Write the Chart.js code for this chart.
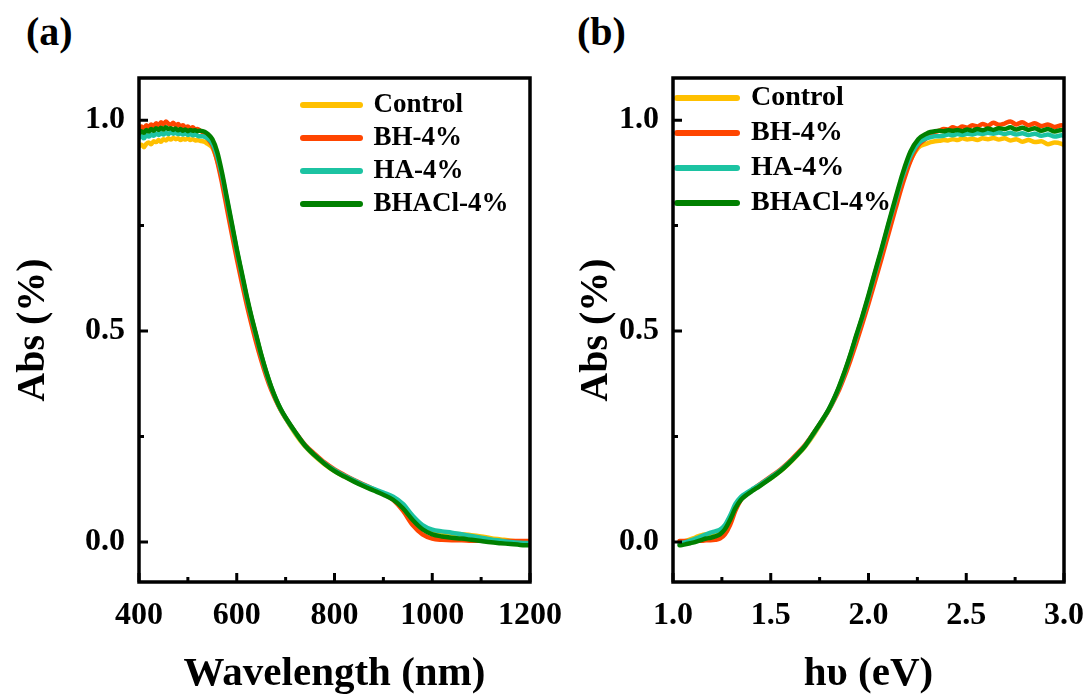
<!DOCTYPE html>
<html>
<head>
<meta charset="utf-8">
<script src="https://cdn.jsdelivr.net/npm/chart.js@4/dist/chart.umd.min.js"></script>
<style>
    body { margin: 0; background: #fff; }
    #wrap { position: relative; width: 1088px; height: 697px; }
    #wrap canvas { position: absolute; top: 0; }
    .tag {
        position: absolute; top: 12px;
        font: bold 40px "Liberation Serif", "Times New Roman", serif;
        line-height: 1; color: #000;
    }
</style>
</head>
<body>
<div id="wrap">
    <div class="tag" style="left:26px">(a)</div>
    <div class="tag" style="left:577px">(b)</div>
    <canvas id="chartA" width="600" height="697" style="left:0"></canvas>
    <canvas id="chartB" width="544" height="697" style="left:544px"></canvas>
</div>
<script>
// ═══════════════════════════════════════════
// Datos
// ═══════════════════════════════════════════

// Longitud de onda (nm)
const wavelength = [
    400, 405, 410, 415, 420, 425, 430, 435, 440, 445, 450, 455, 460, 465, 470,
    475, 480, 485, 490, 495, 500, 505, 510, 515, 520, 525, 530, 535, 540,
    550, 560, 570, 580, 590, 600, 610, 620, 630, 640, 650, 660, 670, 680, 690, 700,
    720, 740, 760, 780, 800, 820, 840, 860, 880, 900, 920, 940, 960, 980, 1000,
    1020, 1040, 1060, 1080, 1100, 1120, 1140, 1160, 1180, 1200
];

// Energía del fotón (eV) para el panel (b)
const energy = wavelength.map(w => 1240 / w);

const seriesNames = ['Control', 'BH-4%', 'HA-4%', 'BHACl-4%'];
const seriesColors = ['#FFC000', '#FF4500', '#1CC3A2', '#008000'];

const absControl = [
    0.938, 0.942, 0.936, 0.944, 0.947, 0.943, 0.950, 0.948, 0.953, 0.949, 0.955, 0.952, 0.957, 0.954, 0.958,
    0.955, 0.957, 0.953, 0.956, 0.954, 0.957, 0.953, 0.955, 0.952, 0.953, 0.951, 0.950, 0.948, 0.944,
    0.935, 0.905, 0.862, 0.806, 0.748, 0.690, 0.635, 0.581, 0.532, 0.487, 0.443, 0.403, 0.368, 0.338, 0.313, 0.293,
    0.256, 0.226, 0.203, 0.184, 0.168, 0.155, 0.144, 0.133, 0.124, 0.115, 0.104, 0.085, 0.058, 0.036, 0.025,
    0.022, 0.020, 0.018, 0.016, 0.013, 0.009, 0.006, 0.003, 0.001, 0.000
];
const absBH = [
    0.978, 0.985, 0.980, 0.988, 0.984, 0.990, 0.986, 0.993, 0.988, 0.995, 0.990, 0.997, 0.992, 0.989, 0.994,
    0.987, 0.991, 0.985, 0.988, 0.982, 0.985, 0.980, 0.983, 0.978, 0.979, 0.975, 0.972, 0.966, 0.957,
    0.940, 0.903, 0.850, 0.790, 0.730, 0.672, 0.617, 0.565, 0.517, 0.472, 0.431, 0.394, 0.362, 0.336, 0.313, 0.294,
    0.260, 0.230, 0.208, 0.188, 0.172, 0.159, 0.147, 0.136, 0.125, 0.114, 0.100, 0.074, 0.040, 0.018, 0.008,
    0.005, 0.004, 0.004, 0.003, 0.003, 0.002, 0.002, 0.002, 0.002, 0.002
];
const absHA = [
    0.958, 0.962, 0.957, 0.964, 0.961, 0.966, 0.963, 0.968, 0.965, 0.969, 0.966, 0.970, 0.967, 0.971, 0.968,
    0.970, 0.967, 0.969, 0.966, 0.968, 0.965, 0.967, 0.964, 0.966, 0.963, 0.962, 0.962, 0.960, 0.957,
    0.945, 0.915, 0.868, 0.810, 0.751, 0.691, 0.636, 0.581, 0.532, 0.487, 0.443, 0.403, 0.368, 0.339, 0.314, 0.294,
    0.259, 0.228, 0.205, 0.186, 0.170, 0.157, 0.146, 0.135, 0.126, 0.117, 0.107, 0.090, 0.062, 0.040, 0.029,
    0.025, 0.022, 0.018, 0.014, 0.010, 0.006, 0.003, 0.000, -0.002, -0.003
];
const absBHACl = [
    0.968, 0.974, 0.970, 0.977, 0.973, 0.979, 0.975, 0.981, 0.977, 0.982, 0.978, 0.983, 0.979, 0.981, 0.977,
    0.980, 0.976, 0.979, 0.975, 0.978, 0.974, 0.977, 0.975, 0.976, 0.974, 0.975, 0.974, 0.972, 0.968,
    0.955, 0.925, 0.875, 0.815, 0.755, 0.695, 0.640, 0.585, 0.535, 0.490, 0.445, 0.405, 0.370, 0.340, 0.315, 0.295,
    0.260, 0.228, 0.205, 0.185, 0.168, 0.155, 0.143, 0.132, 0.122, 0.112, 0.100, 0.080, 0.052, 0.030, 0.018,
    0.013, 0.010, 0.008, 0.005, 0.002, -0.001, -0.003, -0.005, -0.007, -0.008
];
const allSeries = [absControl, absBH, absHA, absBHACl];

// ═══════════════════════════════════════════
// Estilo general
// ═══════════════════════════════════════════
const SERIF = '"Liberation Serif", "Times New Roman", serif';

// Marco negro y marcas hacia dentro (mayores y menores)
const frameTicks = {
    id: 'frameTicks',
    afterDatasetsDraw(chart) {
        const { ctx, chartArea: a, scales: { x, y } } = chart;
        ctx.save();
        ctx.strokeStyle = '#000';
        ctx.lineWidth = 3;
        ctx.beginPath();
        const xt = x.ticks.map(t => t.value);
        const yt = y.ticks.map(t => t.value);
        xt.forEach((v, i) => {
            const px = x.getPixelForValue(v);
            ctx.moveTo(px, a.bottom); ctx.lineTo(px, a.bottom - 9);
            if (i < xt.length - 1) {
                const pm = x.getPixelForValue((v + xt[i + 1]) / 2);
                ctx.moveTo(pm, a.bottom); ctx.lineTo(pm, a.bottom - 5);
            }
        });
        yt.forEach((v, i) => {
            const py = y.getPixelForValue(v);
            ctx.moveTo(a.left, py); ctx.lineTo(a.left + 9, py);
            if (i < yt.length - 1) {
                const pm = y.getPixelForValue((v + yt[i + 1]) / 2);
                ctx.moveTo(a.left, pm); ctx.lineTo(a.left + 5, pm);
            }
        });
        ctx.stroke();
        ctx.lineWidth = 3.5;
        ctx.strokeRect(a.left, a.top, a.right - a.left, a.bottom - a.top);
        ctx.restore();
    }
};

// Mover la leyenda dentro del área del gráfico
const legendSpot = {
    id: 'legendSpot',
    afterLayout(chart, args, opts) {
        const lg = chart.legend;
        if (!lg) return;
        const dx = opts.x - lg.left, dy = opts.y - lg.top;
        lg.left += dx; lg.right += dx;
        lg.top += dy; lg.bottom += dy;
    }
};

// Crear un panel
function crearPanel(canvasId, xs, cfg) {
    const datasets = allSeries.map((vals, k) => {
        let pts = xs.map((xv, i) => ({ x: xv, y: vals[i] }));
        if (cfg.reverse) pts = pts.reverse();
        return {
            label: seriesNames[k],
            data: pts,
            borderColor: seriesColors[k],
            backgroundColor: seriesColors[k],
            borderWidth: 4.5,
            borderCapStyle: 'round',
            borderJoinStyle: 'round',
            pointRadius: 0,
            pointHoverRadius: 0,
            cubicInterpolationMode: 'monotone',
            order: 3 - k
        };
    });

    return new Chart(document.getElementById(canvasId), {
        type: 'line',
        data: { datasets },
        plugins: [frameTicks, legendSpot],
        options: {
            responsive: false,
            animation: false,
            events: [],
            layout: {
                autoPadding: false,
                padding: { top: 78, right: cfg.padRight, left: 0, bottom: 0 }
            },
            plugins: {
                tooltip: { enabled: false },
                legendSpot: { x: cfg.legendX, y: cfg.legendY },
                legend: {
                    position: 'chartArea',
                    align: 'start',
                    labels: {
                        usePointStyle: true,
                        pointStyle: 'line',
                        pointStyleWidth: cfg.legendLine,
                        padding: cfg.legendPad,
                        color: '#000',
                        font: { family: SERIF, size: cfg.legendFont, weight: 'bold' },
                        sort: (a, b) => a.datasetIndex - b.datasetIndex,
                        generateLabels: chart => Chart.defaults.plugins.legend.labels
                            .generateLabels(chart)
                            .map(item => Object.assign(item, {
                                lineWidth: 6,
                                lineCap: 'round',
                                strokeStyle: seriesColors[item.datasetIndex]
                            }))
                    }
                }
            },
            scales: {
                x: {
                    type: 'linear',
                    min: cfg.xMin,
                    max: cfg.xMax,
                    afterFit: s => { s.height = 115; s.paddingLeft = 0; s.paddingRight = 0; },
                    grid: { display: false, drawTicks: false },
                    border: { display: false },
                    ticks: {
                        stepSize: cfg.xStep,
                        includeBounds: false,
                        padding: 18,
                        color: '#000',
                        maxRotation: 0,
                        autoSkip: false,
                        font: { family: SERIF, size: 32, weight: 'bold', lineHeight: 1 },
                        callback: v => cfg.xFixed ? Number(v).toFixed(1) : v
                    },
                    title: {
                        display: true,
                        text: cfg.xTitle,
                        color: '#000',
                        padding: { top: 0, bottom: 2 },
                        font: { family: SERIF, size: 41, weight: 'bold', lineHeight: 1 }
                    }
                },
                y: {
                    type: 'linear',
                    min: -0.095,
                    max: 1.1,
                    afterFit: s => { s.width = cfg.yWidth; s.paddingTop = 0; s.paddingBottom = 0; },
                    grid: { display: false, drawTicks: false },
                    border: { display: false },
                    ticks: {
                        stepSize: 0.5,
                        includeBounds: false,
                        padding: 14,
                        color: '#000',
                        font: { family: SERIF, size: 32, weight: 'bold', lineHeight: 1 },
                        callback: v => Number(v).toFixed(1)
                    },
                    title: {
                        display: true,
                        text: 'Abs (%)',
                        color: '#000',
                        padding: { top: cfg.yTitlePad, bottom: 0 },
                        font: { family: SERIF, size: 40, weight: 'bold', lineHeight: 1 }
                    }
                }
            }
        }
    });
}

// ═══════════════════════════════════════════
// Inicialización
// ═══════════════════════════════════════════
crearPanel('chartA', wavelength, {
    xMin: 400, xMax: 1200, xStep: 200, xFixed: false,
    xTitle: 'Wavelength (nm)',
    padRight: 70, yWidth: 139, yTitlePad: 14,
    legendX: 297, legendY: 85.5, legendLine: 57, legendPad: 6, legendFont: 27,
    reverse: false
});

crearPanel('chartB', energy, {
    xMin: 1.0, xMax: 3.0, xStep: 0.5, xFixed: true,
    xTitle: 'hυ (eV)',
    padRight: 24, yWidth: 129, yTitlePad: 33,
    legendX: 126, legendY: 77, legendLine: 60, legendPad: 7, legendFont: 28,
    reverse: true
});
</script>
</body>
</html>
